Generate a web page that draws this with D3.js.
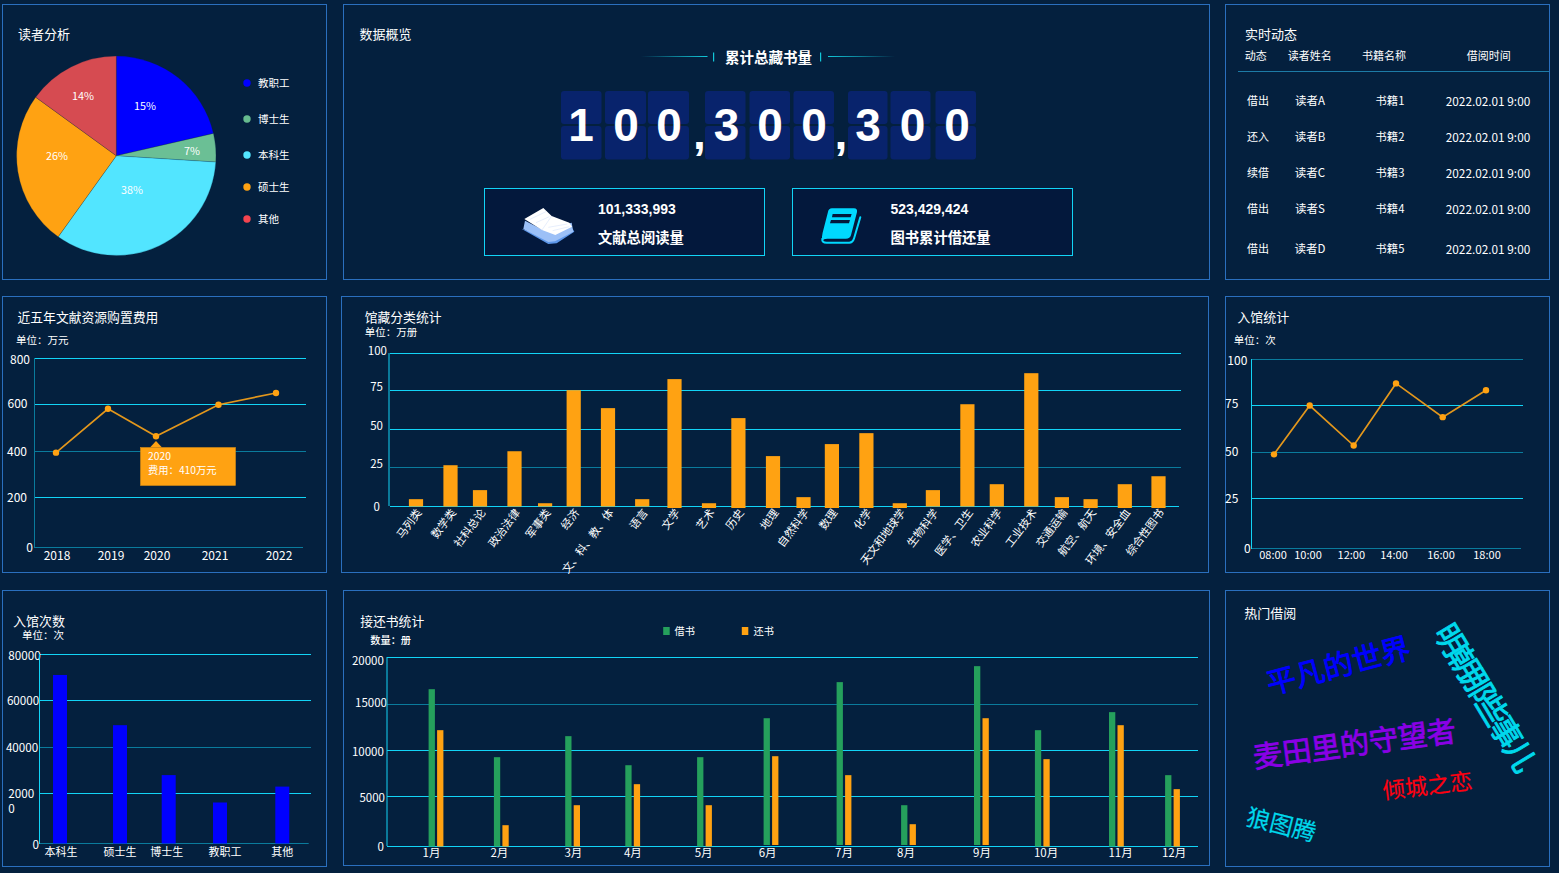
<!DOCTYPE html>
<html lang="zh">
<head>
<meta charset="utf-8">
<title>图书馆数据大屏</title>
<script src="https://cdn.jsdelivr.net/npm/d3@7"></script>
<style>
html,body{margin:0;padding:0;background:#04203e;overflow:hidden}
svg{display:block}
text{font-family:"Noto Sans CJK SC","Noto Sans",sans-serif;fill:#fff}
.num{font-family:"Liberation Sans",Arial,sans-serif;font-weight:700}
</style>
</head>
<body>
<svg id="chart" width="1559" height="873"></svg>
<script>
// ---------- data ----------
const readerCategories = ["教职工","博士生","本科生","硕士生","其他"];
const readerShares = [21.4,4.6,33.9,25.1,15];
const readerShareLabels = ["15%","7%","38%","26%","14%"];

const totalCollection = "100,300,300";
const totalReading = "101,333,993";
const totalLoans = "523,429,424";

const feedTableHeader = ["动态","读者姓名","书籍名称","借阅时间"];
const feedActions = ["借出","还入","续借","借出","借出"];
const feedReaders = ["读者A","读者B","读者C","读者S","读者D"];
const feedBooks = ["书籍1","书籍2","书籍3","书籍4","书籍5"];
const feedTimes = ["2022.02.01 9:00","2022.02.01 9:00","2022.02.01 9:00","2022.02.01 9:00","2022.02.01 9:00"];

const costYears = ["2018","2019","2020","2021","2022"];
const costValues = [395,582,465,599,650];
const costTicks = [0,200,400,600,800];

const collectionCategories = ["马列类","数学类","社科总论","政治法律","军事类","经济","文、科、教、体","语言","文学","艺术","历史","地理","自然科学","数理","化学","天文和地球学","生物科学","医学、卫生","农业科学","工业技术","交通运输","航空、航天","环境、安全血","综合性图书"];
const collectionValues = [4.7,26.5,10.5,35.7,2.1,75.2,63.7,4.7,82.7,2.1,57.3,32.5,6,40.4,47.6,2.1,10.5,66.2,14.3,86.7,6,4.7,14.3,19.4];
const collectionTicks = [0,25,50,75,100];

const entryHours = ["08:00","10:00","12:00","14:00","16:00","18:00"];
const entryHourValues = [49,75,53.7,87,68.8,83.3];
const entryHourTicks = [0,25,50,75,100];

const visitorGroups = ["本科生","硕士生","博士生","教职工","其他"];
const visitorValues = [71100,49500,28000,16400,23000];
const visitorTicks = [0,20000,40000,60000,80000];

const months = ["1月","2月","3月","4月","5月","6月","7月","8月","9月","10月","11月","12月"];
const borrowValues = [16630,9275,11560,8400,9275,13510,17380,4130,19080,12210,14170,7320];
const returnValues = [12210,2130,4130,6340,4130,9380,7320,2230,13510,9060,12750,5800];
const loanTicks = [0,5000,10000,15000,20000];

const hotBooks = ["平凡的世界","明朝那些事儿","麦田里的守望者","倾城之恋","狼图腾"];

// ---------- style ----------
const BRIGHT="#12d4f6", DIM="#0a7b9c", ORANGE="#ffa212", GREEN="#25a05c", BORDER="#2a6fbe";
const svg=d3.select("#chart");
const plainNumber=d3.format("d");

function label(s,x,y,size,opts={}){
  return svg.append("text").attr("x",x).attr("y",y-1).attr("dominant-baseline","central")
    .attr("font-size",size).attr("text-anchor",opts.anchor||"start")
    .attr("font-weight",opts.weight||null).attr("class",opts.cls||null).text(s);
}
[[2,4,324,275],[343,4,866,275],[1225,4,324,275],
 [2,296,324,276],[341,296,867,276],[1225,296,324,276],
 [2,590,324,276],[343,590,866,275],[1225,590,324,276]].forEach(([x,y,w,h])=>{
  svg.append("rect").attr("x",x+.5).attr("y",y+.5).attr("width",w).attr("height",h)
    .attr("fill","#04203e").attr("stroke",BORDER);
});

// shared axis helpers
function grid(scale,ticks,x0,x1,colors,zeroEnd){
  svg.append("g").selectAll("line").data(ticks).join("line")
    .attr("x1",x0).attr("x2",(d)=>d===0&&zeroEnd?zeroEnd:x1)
    .attr("y1",d=>scale(d)).attr("y2",d=>scale(d))
    .attr("stroke",(d,i)=>colors[i]);
}
function leftAxis(scale,ticks,x,right,nudgeY,size,color,top,bot){
  const g=svg.append("g").attr("transform",`translate(${x},0)`)
    .call(d3.axisLeft(scale).tickValues(ticks).tickFormat(plainNumber).tickSize(0).offset(0));
  g.select(".domain").remove();
  g.selectAll("text").attr("font-size",size).attr("fill","#fff").style("font-family",'"Noto Sans CJK SC"')
    .attr("x",(d,i)=>right[i]-x).attr("y",(d,i)=>nudgeY[i]);
  svg.append("line").attr("x1",x).attr("x2",x).attr("y1",top).attr("y2",bot).attr("stroke",color);
  return g;
}
function bottomAxis(scale,domain,y,dy,size){
  const g=svg.append("g").attr("transform",`translate(0,${y})`)
    .call(d3.axisBottom(scale).tickValues(domain).tickSize(0).offset(0));
  g.select(".domain").remove();
  g.selectAll("text").attr("font-size",size).attr("fill","#fff").style("font-family",'"Noto Sans CJK SC"')
    .attr("y",dy).attr("dy","0.35em");
  return g;
}
function lineChart(cats,vals,x,y){
  const line=d3.line().x((d,i)=>x(cats[i])).y(d=>y(d));
  svg.append("path").datum(vals).attr("d",line).attr("fill","none").attr("stroke","#e3971c").attr("stroke-width",1.7);
  svg.append("g").selectAll("circle").data(vals).join("circle")
    .attr("cx",(d,i)=>x(cats[i])).attr("cy",d=>y(d)).attr("r",3.2).attr("fill",ORANGE);
}

// ---------- 读者分析 ----------
label("读者分析",18,34,13);
const pieColor=d3.scaleOrdinal(readerCategories,["#0000ff","#6bbf95","#52e5ff","#ffa212","#d64b51"]);
const legendColor=d3.scaleOrdinal(readerCategories,["#0000ff","#66bb8f","#52e5ff","#ffa212","#f4444f"]);
const pieG=svg.append("g").attr("transform","translate(116.3,155.8)");
const arcs=d3.pie().sort(null)(readerShares);
pieG.selectAll("path").data(arcs).join("path")
  .attr("d",d3.arc().innerRadius(0).outerRadius(99.7))
  .attr("fill",(d,i)=>pieColor(readerCategories[i])).attr("stroke","#04203e").attr("stroke-opacity",.35).attr("stroke-width",.6);
const pieLabelSpots=[[145,106],[192,151],[132,190],[57,156],[83,96]];
readerShareLabels.forEach((t,i)=>label(t,pieLabelSpots[i][0],pieLabelSpots[i][1],10.8,{anchor:"middle"}));
const legendY=d3.scaleOrdinal(readerCategories,[83,119,155,187,219]);
readerCategories.forEach(c=>{
  svg.append("circle").attr("cx",247).attr("cy",legendY(c)).attr("r",3.7).attr("fill",legendColor(c));
  label(c,258,legendY(c),10.5);
});

// ---------- 数据概览 ----------
label("数据概览",359.5,34,13);
label("累计总藏书量",768.5,57.5,14.5,{anchor:"middle",weight:700});
const defs=svg.append("defs");
[["fadeL",[0,.55,1]],["fadeR",[1,.55,0]]].forEach(([id,ops])=>{
  const g=defs.append("linearGradient").attr("id",id);
  ops.forEach((o,i)=>g.append("stop").attr("offset",`${i*50}%`).attr("stop-color","#12c6d8").attr("stop-opacity",o));
});
[[641,707.5,"fadeL"],[828,895,"fadeR"]].forEach(([a,b,f])=>{
  svg.append("rect").attr("x",a).attr("y",56).attr("width",b-a).attr("height",1).attr("fill",`url(#${f})`);
});
[713,820].forEach(x=>svg.append("rect").attr("x",x).attr("y",52.5).attr("width",1.2).attr("height",9).attr("fill","#12c6d8"));

const tileX=[561,605,648,705,749.5,793.5,848,890.5,935.5];
const tileW=[40.5,41,41,40.5,40.5,40.5,39.5,40,40.5];
const digits=totalCollection.replace(/,/g,"").split("");
const digitX=[581,626,669,726.5,770,814,868,912.5,957];
digits.forEach((d,i)=>{
  [[91,33],[126,33.5]].forEach(([y,h])=>{
    svg.append("rect").attr("x",tileX[i]).attr("y",y).attr("width",tileW[i]).attr("height",h).attr("rx",3).attr("fill","#08236c");
  });
});
digits.forEach((d,i)=>{
  svg.append("text").attr("class","num").attr("x",digitX[i]).attr("y",141).attr("text-anchor","middle").attr("font-size",46).text(d);
});
[699.5,841].forEach(x=>svg.append("text").attr("class","num").attr("x",x).attr("y",149).attr("text-anchor","middle").attr("font-size",46).text(","));

[[484.5,totalReading,"文献总阅读量",598],[792.5,totalLoans,"图书累计借还量",890.5]].forEach(([x,n,t,tx])=>{
  svg.append("rect").attr("x",x).attr("y",188.5).attr("width",280).attr("height",67).attr("fill","#03183c").attr("stroke",BRIGHT);
  label(n,tx,210,14,{cls:"num"});
  label(t,tx,237,14.3,{weight:700});
});
const ic=svg.append("g").attr("transform","translate(480,180) scale(.3333)");
ic.append("path").attr("fill","#5d97ea").attr("d","M124,146L205,192L230,190L283,155L278,146L205,170Z");
ic.append("path").attr("fill","#9cc0f7").attr("d","M130,147L135,122L185,148L275,128L280,155L225,184L205,186Z");
ic.append("path").attr("fill","#ffffff").attr("d","M133,117L190,84L215,108L268,128L276,140L226,165L186,150Z");
ic.append("path").attr("fill","none").attr("stroke","#dbe6fb").attr("stroke-width",2).attr("d","M150,118L198,95M168,128L208,110M186,150L215,108M205,142L262,132M218,152L268,140");
ic.append("path").attr("fill","#00d8ff").attr("d","M1056,85H1122Q1133,85 1131,97L1113,166Q1110,176 1098,176H1042Q1030,176 1028,182Q1024,170 1028,158L1044,96Q1046,85 1056,85Z");
ic.append("path").attr("fill","none").attr("stroke","#00d8ff").attr("stroke-width",6).attr("stroke-linecap","round").attr("d","M1027,176Q1025,188 1040,188H1108Q1118,188 1122,176L1141,112");
ic.append("path").attr("fill","#03183c").attr("d","M1058,102H1115L1112,112H1056ZM1053,120H1110L1107,130H1050Z");

// ---------- 实时动态 ----------
label("实时动态",1245,34,13);
const headerX=[1255.7,1309.7,1384,1488.7];
feedTableHeader.forEach((h,i)=>label(h,headerX[i],56,11,{anchor:"middle"}));
svg.append("line").attr("x1",1238).attr("x2",1549).attr("y1",71.5).attr("y2",71.5).attr("stroke","#1d7ba6");
const rowY=d3.scaleOrdinal(d3.range(5),[101,137,173,209,249]);
[[feedActions,1258,11],[feedReaders,1310,11.5],[feedBooks,1390,11.3],[feedTimes,1488,11.8]].forEach(([col,x,size])=>{
  col.forEach((t,i)=>label(t,x,rowY(i),size,{anchor:"middle"}));
});

// ---------- 近五年文献资源购置费用 ----------
label("近五年文献资源购置费用",17.5,317,12.8);
label("单位：万元",16,340,10.5);
const costY=d3.scaleLinear().domain(costTicks).range([547.5,497.5,451.5,404.5,358.5]);
const costX=d3.scaleOrdinal(costYears,[56,108,156,218.5,276]);
const costLabelX=d3.scaleOrdinal(costYears,[57,111,157,215,279]);
grid(costY,costTicks,34,306,[DIM,BRIGHT,DIM,BRIGHT,BRIGHT],303);
leftAxis(costY,costTicks,34.5,[33,27,27,27.5,30],[1,1,1,0,2],12,DIM,358,548);
bottomAxis(costLabelX,costYears,547.5,8.5,12);
lineChart(costYears,costValues,costX,costY);
svg.append("path").attr("fill",ORANGE).attr("d","M150,447.5L156,441L162,447.5Z");
svg.append("rect").attr("x",140.5).attr("y",447.5).attr("width",95).attr("height",38).attr("fill",ORANGE).attr("stroke","#d98c14").attr("stroke-width",.6);
label("2020",148,456.5,10.3);
label("费用：410万元",148,470,10.3);

// ---------- 馆藏分类统计 ----------
label("馆藏分类统计",364.7,317,12.8);
label("单位：万册",364.7,332.7,10.5);
const colY=d3.scaleLinear().domain(collectionTicks).range([506.5,467.5,429.5,390.5,353.5]);
const colX=d3.scaleOrdinal(collectionCategories,[416,450.5,480,514.5,545.1,573.7,608,642.2,674.5,709,738.4,773,803.5,831.9,866.4,899.8,932.9,967.4,996.8,1031.3,1061.9,1090.6,1124.8,1158.5]);
grid(colY,collectionTicks,390,1181,[BRIGHT,DIM,BRIGHT,BRIGHT,BRIGHT],1179);
leftAxis(colY,collectionTicks,389,[380,383,383,383,387],[1,-3,-3,-3,-2],11.5,BRIGHT,353,506);
const overshoot=new Set(["文学","艺术","历史","地理","自然科学","数理","化学","天文和地球学","交通运输","航空、航天","环境、安全血","综合性图书"]);
svg.append("g").selectAll("rect").data(collectionValues).join("rect")
  .attr("x",(d,i)=>colX(collectionCategories[i])-7.1).attr("width",14.2)
  .attr("y",d=>colY(d)).attr("height",(d,i)=>colY(0)-colY(d)+(overshoot.has(collectionCategories[i])?1.5:0))
  .attr("fill",ORANGE);
bottomAxis(colX,collectionCategories,506.5,0,11).selectAll("text")
  .attr("text-anchor","end").attr("y",0).attr("dy","0.35em")
  .attr("transform","translate(3,4) rotate(-53)");

// ---------- 入馆统计 ----------
label("入馆统计",1237.3,317,13);
label("单位：次",1233.7,340,10.5);
const hrY=d3.scaleLinear().domain(entryHourTicks).range([548.5,498.5,452.5,405.5,359.5]);
const hrX=d3.scaleOrdinal(entryHours,[1274,1309.7,1353.7,1396,1442.7,1486]);
const hrLabelX=d3.scaleOrdinal(entryHours,[1273,1308,1351.3,1394,1441,1487]);
grid(hrY,entryHourTicks,1252,1523,[DIM,BRIGHT,DIM,BRIGHT,DIM],1521);
leftAxis(hrY,entryHourTicks,1251.5,[1250.7,1238.3,1238.3,1238.3,1247.3],[1,1,0,-1,2],12,BRIGHT,359,549);
bottomAxis(hrLabelX,entryHours,548.5,6.5,11);
lineChart(entryHours,entryHourValues,hrX,hrY);

// ---------- 入馆次数 ----------
label("入馆次数",13,621,13);
label("单位：次",22,635.3,10.5);
const visY=d3.scaleLinear().domain(visitorTicks).range([843.5,793.5,747.5,700.5,654.5]);
const visBarX=d3.scaleOrdinal(visitorGroups,[60,120,168.7,220,282.3]);
const visLabelX=d3.scaleOrdinal(visitorGroups,[61,120,166.7,225,282.3]);
grid(visY,visitorTicks,39,311,[DIM,BRIGHT,DIM,BRIGHT,BRIGHT],308.7);
const visAxis=leftAxis(visY,visitorTicks,39.5,[39,34.5,38.3,39.3,40.7],[2,1,1,1,2],11.7,BRIGHT,654,844);
visAxis.selectAll("text").filter(d=>d===20000).each(function(){
  const t=d3.select(this).text(null).attr("text-anchor","start").attr("x",8.3-39.5);
  t.append("tspan").attr("x",8.3-39.5).text("2000");
  t.append("tspan").attr("x",8.3-39.5).attr("dy","1.3em").text("0");
});
svg.append("g").selectAll("rect").data(visitorValues).join("rect")
  .attr("x",(d,i)=>visBarX(visitorGroups[i])-7).attr("width",14)
  .attr("y",d=>visY(d)).attr("height",d=>visY(0)-visY(d)).attr("fill","#0000ff");
bottomAxis(visLabelX,visitorGroups,843.5,8.5,11);

// ---------- 接还书统计 ----------
label("接还书统计",360.2,621.3,12.8);
label("数量：册",370.3,640.7,10.2,{weight:500});
[[663.2,"借书",GREEN,674.5],[741.8,"还书",ORANGE,753.6]].forEach(([x,t,c,tx])=>{
  svg.append("rect").attr("x",x).attr("y",627).attr("width",6.5).attr("height",8).attr("fill",c);
  label(t,tx,631,10.2);
});
const loanY=d3.scaleLinear().domain(loanTicks).range([846.5,796.5,750.5,704.5,657.5]);
const loanX=d3.scaleOrdinal(months,[436,501.3,572.6,632.7,704.5,771,844,908.5,981.4,1042.3,1116.4,1172.5]);
const loanLabelX=d3.scaleOrdinal(months,[431.5,499.4,573.4,632.9,703.6,767.6,844,906,982,1046,1120.6,1174]);
grid(loanY,loanTicks,387,1198,[BRIGHT,BRIGHT,BRIGHT,DIM,BRIGHT]);
leftAxis(loanY,loanTicks,387,[384,385,383.8,387,383.8],[1,1.5,1.5,-1,3.5],11.5,BRIGHT,657,846);
const floating=new Set(["6月","7月","8月","9月"]);
[[borrowValues,GREEN,-7.4],[returnValues,ORANGE,1.1]].forEach(([vals,color,off])=>{
  svg.append("g").selectAll("rect").data(vals).join("rect")
    .attr("x",(d,i)=>loanX(months[i])+off).attr("width",6.3)
    .attr("y",d=>loanY(d)).attr("height",(d,i)=>loanY(0)-loanY(d)-(floating.has(months[i])?1.5:0))
    .attr("fill",color);
});
bottomAxis(loanLabelX,months,846.5,6.8,11.5);

// ---------- 热门借阅 ----------
label("热门借阅",1244.3,613.3,13);
const cloudColor=d3.scaleOrdinal(hotBooks,["#0000ff","#00d8ec","#8a00e6","#ff0010","#00d8ec"]);
const cloudSize=d3.scaleOrdinal(hotBooks,[29.5,31,29.2,22.5,23.5]);
const cloudTrack=d3.scaleOrdinal(hotBooks,[0,-4,0,0,0]);
const cloudStroke=d3.scaleOrdinal(hotBooks,[.8,.9,.8,.2,.2]);
const cloudSpot=d3.scaleOrdinal(hotBooks,[[1337.7,663.5,-14.7],[1486.2,695,59],[1354.3,741.5,-7.6],[1427.3,784,-6.6],[1281.7,823.3,14]]);
hotBooks.forEach(b=>{
  const [x,y,r]=cloudSpot(b);
  svg.append("text").attr("text-anchor","middle").attr("dominant-baseline","central")
    .attr("transform",`translate(${x},${y}) rotate(${r})`).attr("letter-spacing",cloudTrack(b))
    .attr("font-size",cloudSize(b)).style("fill",cloudColor(b))
    .attr("stroke",cloudColor(b)).attr("stroke-width",cloudStroke(b)).text(b);
});
</script>
</body>
</html>
